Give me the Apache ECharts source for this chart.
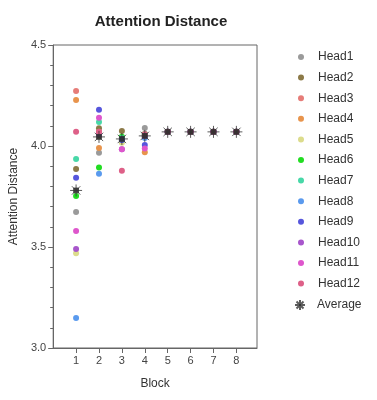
<!DOCTYPE html>
<html>
<head>
<meta charset="utf-8">
<script src="https://cdn.jsdelivr.net/npm/echarts@6/dist/echarts.min.js"></script>
<style>
  html, body { margin: 0; padding: 0; background: #fff; }
  #chart { width: 377px; height: 400px; }
</style>
</head>
<body>
<div id="chart"></div>
<script>
// 横轴：Block
const blocks = [1, 2, 3, 4, 5, 6, 7, 8];
const headNames = ['Head1', 'Head2', 'Head3', 'Head4', 'Head5', 'Head6',
  'Head7', 'Head8', 'Head9', 'Head10', 'Head11', 'Head12'];

// 每个 head 在各 block 的注意力距离
const head1 = [3.673, 3.967, 4.030, 4.089, 4.070, 4.070, 4.070, 4.070];
const head2 = [3.886, 4.088, 4.074, 4.050, 4.070, 4.070, 4.070, 4.070];
const head3 = [4.272, 4.071, 4.040, 4.045, 4.070, 4.070, 4.070, 4.070];
const head4 = [4.228, 3.990, 4.030, 3.969, 4.070, 4.070, 4.070, 4.070];
const head5 = [3.469, 4.050, 4.016, 4.050, 4.070, 4.070, 4.070, 4.070];
const head6 = [3.752, 3.893, 4.046, 4.060, 4.070, 4.070, 4.070, 4.070];
const head7 = [3.936, 4.119, 4.040, 4.050, 4.070, 4.070, 4.070, 4.070];
const head8 = [3.149, 3.863, 4.030, 4.040, 4.070, 4.070, 4.070, 4.070];
const head9 = [3.843, 4.180, 4.030, 4.005, 4.070, 4.070, 4.070, 4.070];
const head10 = [3.490, 4.055, 3.984, 4.050, 4.070, 4.070, 4.070, 4.070];
const head11 = [3.579, 4.140, 3.984, 3.988, 4.070, 4.070, 4.070, 4.070];
const head12 = [4.071, 4.070, 3.878, 4.060, 4.070, 4.070, 4.070, 4.070];
const average = [3.780, 4.045, 4.035, 4.050, 4.070, 4.070, 4.070, 4.070];

const headValues = [head1, head2, head3, head4, head5, head6,
  head7, head8, head9, head10, head11, head12];

const headColors = ['#9a9a9a', '#8c7a48', '#e67c78', '#e8944c', '#dcdc8c', '#22dd22',
  '#48d8a8', '#5a9aee', '#5656dc', '#a856cc', '#de56cc', '#de6088'];

const yTicks = [3.0, 3.5, 4.0, 4.5];

// 星号符号（8 条线 + 深色中心）
const starPath = 'path://M0,-10L0,10M-10,0L10,0M-7,-7L7,7M-7,7L7,-7M-4,-4L4,-4L4,4L-4,4Z';
const starLegend = 'path://M0,-10L0,10M-10,0L10,0M-7,-7L7,7M-7,7L7,-7M-2,-2L2,-2L2,2L-2,2Z';

const myChart = echarts.init(document.getElementById('chart'));

const series = headNames.map((name, i) => ({
  name: name,
  type: 'scatter',
  symbol: 'circle',
  symbolSize: 6,
  itemStyle: { color: headColors[i], opacity: 1 },
  data: blocks.map((b, j) => [b, headValues[i][j]]),
  z: 2,
}));

series.push({
  name: 'Average',
  type: 'scatter',
  symbol: starPath,
  symbolSize: 12,
  itemStyle: { color: '#222', borderColor: '#333', borderWidth: 1 },
  data: blocks.map((b, j) => [b, average[j]]),
  z: 5,
});

const legendText = { fontFamily: 'Liberation Sans', fontSize: 12, color: '#333' };

const option = {
  animation: false,
  title: {
    text: 'Attention Distance',
    left: 156,
    top: 9,
    textAlign: 'center',
    textStyle: { fontFamily: 'Liberation Sans', fontSize: 15, fontWeight: 'bold', color: '#222' },
  },
  legend: [
    {
      orient: 'vertical',
      left: 293,
      top: 46,
      itemWidth: 24,
      itemHeight: 6,
      itemGap: 8.6,
      textStyle: legendText,
      data: headNames.map(n => ({ name: n, icon: 'circle' })),
    },
    {
      orient: 'vertical',
      left: 289,
      top: 294,
      itemWidth: 24,
      itemHeight: 10,
      textStyle: legendText,
      data: [{ name: 'Average', icon: starLegend }],
    },
  ],
  grid: {
    left: 52.5,
    right: 120,
    top: 45,
    bottom: 52,
    show: true,
    borderColor: '#666',
    borderWidth: 1,
    backgroundColor: 'transparent',
  },
  xAxis: {
    type: 'value',
    min: 0,
    max: 8.9,
    name: 'Block',
    nameLocation: 'middle',
    nameGap: 30,
    nameTextStyle: { fontFamily: 'Liberation Sans', fontSize: 12, color: '#333' },
    axisLine: { lineStyle: { color: '#666' } },
    axisTick: { show: true, length: 5, customValues: blocks, lineStyle: { color: '#666' } },
    axisLabel: { customValues: blocks, color: '#444', fontFamily: 'Liberation Sans', fontSize: 11, margin: 7 },
    splitLine: { show: false },
  },
  yAxis: {
    type: 'value',
    min: 3.0,
    max: 4.5,
    interval: 0.5,
    name: 'Attention Distance',
    nameLocation: 'middle',
    nameGap: 29,
    nameTextStyle: { fontFamily: 'Liberation Sans', fontSize: 12, color: '#333' },
    axisLine: { show: true, lineStyle: { color: '#666' } },
    axisTick: { show: true, length: 5, customValues: yTicks, lineStyle: { color: '#666' } },
    minorTick: { show: true, splitNumber: 5, length: 3, lineStyle: { color: '#666' } },
    axisLabel: {
      color: '#444', fontFamily: 'Liberation Sans', fontSize: 11, margin: 7,
      formatter: v => v.toFixed(1),
    },
    splitLine: { show: false },
  },
  series: series,
};

myChart.setOption(option);
</script>
</body>
</html>
